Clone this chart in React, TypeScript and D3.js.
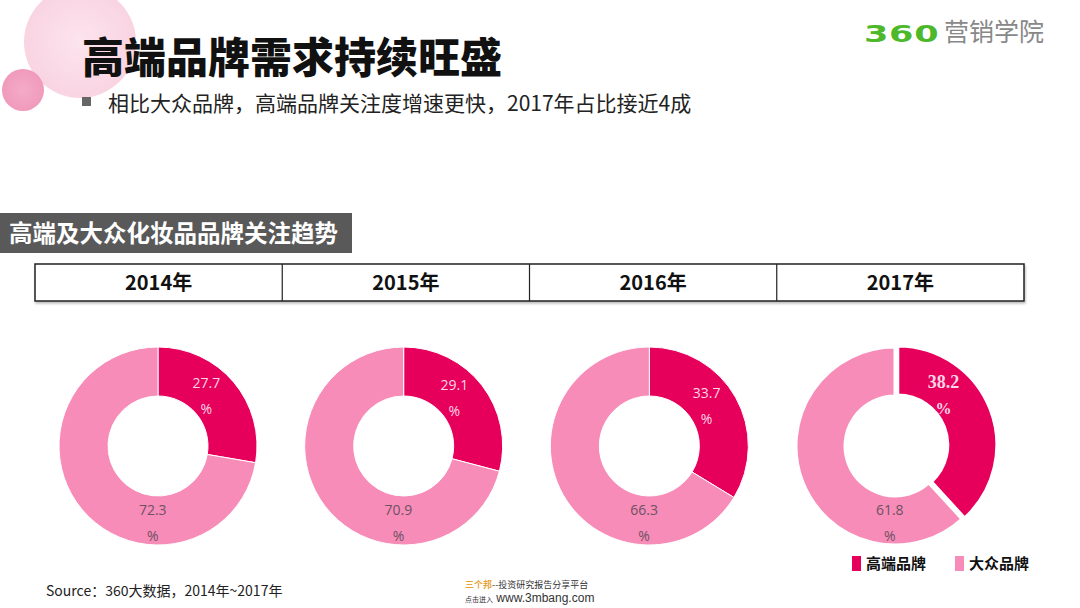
import React from "react";
import * as d3 from "d3";

const years = ["2014年", "2015年", "2016年", "2017年"];
const highEnd = [27.7, 29.1, 33.7, 38.2];
const massMarket = [72.3, 70.9, 66.3, 61.8];
const seriesNames = ["高端品牌", "大众品牌"];

const W = 1080;
const H = 608;
const DARK = "#e6005c";
const LIGHT = "#f78cb8";
const CJK = "'Noto Sans CJK SC', 'Noto Sans', sans-serif";

export default function App() {
  const tableX0 = 35;
  const tableX1 = 1024;
  const band = d3.scaleBand<string>().domain(years).range([tableX0, tableX1]);
  const centers = d3.scalePoint<string>().domain(years).range([158, 895]);
  const cy = 446;
  const outerR = 99;
  const innerR = 50;
  const pie = d3.pie<number>().sort(null).value((d) => d).startAngle(0).endAngle(2 * Math.PI);
  const arc = d3.arc<d3.PieArcDatum<number>>().innerRadius(innerR).outerRadius(outerR);

  return (
    <svg width={W} height={H} style={{ position: "absolute", left: 0, top: 0, background: "#fff" }}>
      <defs>
        <radialGradient id="bigC" cx="50%" cy="50%" r="50%">
          <stop offset="0%" stopColor="#fce4ed" />
          <stop offset="100%" stopColor="#f9d4e2" />
        </radialGradient>
        <radialGradient id="smallC" cx="50%" cy="50%" r="50%">
          <stop offset="0%" stopColor="#f4abc7" />
          <stop offset="100%" stopColor="#f09abc" />
        </radialGradient>
        <filter id="sh" x="-5%" y="-20%" width="110%" height="160%">
          <feDropShadow dx="1" dy="2" stdDeviation="1.2" floodColor="#000" floodOpacity="0.25" />
        </filter>
      </defs>
      <rect x={0} y={0} width={W} height={H} fill="#fff" />
      {/* decorative circles */}
      <circle cx={80} cy={42} r={56} fill="url(#bigC)" />
      <circle cx={23} cy={90} r={21} fill="url(#smallC)" />

      {/* Title */}
      <text x={82} y={73} fontFamily={CJK} fontWeight={900} fontSize={42} fill="#111">
        高端品牌需求持续旺盛
      </text>
      <rect x={82} y={97} width={9} height={9} fill="#666" />
      <text x={108} y={111} fontFamily={CJK} fontSize={21} fill="#222">
        相比大众品牌，高端品牌关注度增速更快，2017年占比接近4成
      </text>

      {/* logo */}
      <g transform="translate(864,42) scale(1.3,0.88)">
        <text x={0} y={0} fontFamily="'DejaVu Sans', sans-serif" fontWeight={700} fontSize={27} fill="#4cb82a" letterSpacing={0.5}>
          360
        </text>
      </g>
      <text x={944} y={41} fontFamily={CJK} fontSize={25} fill="#888">
        营销学院
      </text>

      {/* section header */}
      <rect x={0} y={213} width={352} height={40} fill="#595959" />
      <text x={9} y={242} fontFamily={CJK} fontWeight={700} fontSize={23.5} fill="#fff">
        高端及大众化妆品品牌关注趋势
      </text>

      {/* year table */}
      <g filter="url(#sh)">
        <rect x={tableX0} y={264} width={tableX1 - tableX0} height={37} fill="#fff" stroke="#222" strokeWidth={1.5} />
      </g>
      {years.slice(1).map((y) => (
        <line key={y} x1={band(y)!} x2={band(y)!} y1={264} y2={301} stroke="#222" strokeWidth={1.2} />
      ))}
      {years.map((y) => (
        <text key={y} x={band(y)! + band.bandwidth() / 2} y={290} textAnchor="middle" fontFamily={CJK} fontWeight={700} fontSize={20} fill="#111">
          {y}
        </text>
      ))}

      {/* donuts */}
      {years.map((y, i) => {
        const cx = centers(y)!;
        const arcs = pie([highEnd[i], massMarket[i]]);
        const emphasize = i === years.length - 1;
        return (
          <g key={y} transform={`translate(${cx},${cy})`}>
            {arcs.map((a, j) => {
              const mid = (a.startAngle + a.endAngle) / 2;
              const off = emphasize && j === 0 ? 3 : 0;
              return (
                <path
                  key={j}
                  d={arc(a)!}
                  fill={j === 0 ? DARK : LIGHT}
                  stroke="#fff"
                  strokeWidth={emphasize ? 3 : 1}
                  transform={`translate(${off * Math.sin(mid)},${-off * Math.cos(mid)})`}
                />
              );
            })}
            {arcs.map((a, j) => {
              const mid = (a.startAngle + a.endAngle) / 2;
              const ang = j === 0 ? mid - (emphasize ? 0.45 : 0.12) : Math.PI + 0.07;
              const rr = j === 0 ? 71 : 75;
              const lx = rr * Math.sin(ang);
              const ly = -rr * Math.cos(ang);
              const val = j === 0 ? highEnd[i] : massMarket[i];
              const bold = emphasize && j === 0;
              const color = j === 0 ? "#fcd6e5" : "#6e5162";
              return (
                <g key={"l" + j}>
                  <text
                    x={lx}
                    y={ly - 6}
                    textAnchor="middle"
                    fontFamily={bold ? "'Liberation Serif', serif" : "'Open Sans', sans-serif"}
                    fontWeight={bold ? 700 : 400}
                    fontSize={bold ? 18 : 14}
                    fill={color}
                  >
                    {val.toFixed(1)}
                  </text>
                  <text
                    x={lx}
                    y={ly + 20}
                    textAnchor="middle"
                    fontFamily={bold ? "'Liberation Serif', serif" : "'Open Sans', sans-serif"}
                    fontWeight={bold ? 700 : 400}
                    fontSize={bold ? 16 : 14}
                    fill={color}
                  >
                    %
                  </text>
                </g>
              );
            })}
          </g>
        );
      })}

      {/* legend */}
      {seriesNames.map((n, i) => {
        const x = i === 0 ? 852 : 955;
        return (
          <g key={n}>
            <rect x={x} y={556} width={9} height={15} fill={i === 0 ? DARK : LIGHT} />
            <text x={x + 14} y={569} fontFamily={CJK} fontWeight={700} fontSize={15} fill="#111">
              {n}
            </text>
          </g>
        );
      })}

      {/* source */}
      <text x={46} y={596} fontFamily={CJK} fontSize={14} fill="#222">
        Source：360大数据，2014年~2017年
      </text>

      {/* watermark */}
      <text x={465} y={588} fontFamily={CJK} fontSize={9} fill="#333">
        <tspan fill="#e8a33a" fontWeight={700}>三个邦</tspan>--投资研究报告分享平台
      </text>
      <text x={465} y={602} fontFamily={CJK} fontSize={7} fill="#333">
        点击进入<tspan fontFamily="'Liberation Sans', sans-serif" fontSize={12}> www.3mbang.com</tspan>
      </text>
    </svg>
  );
}
